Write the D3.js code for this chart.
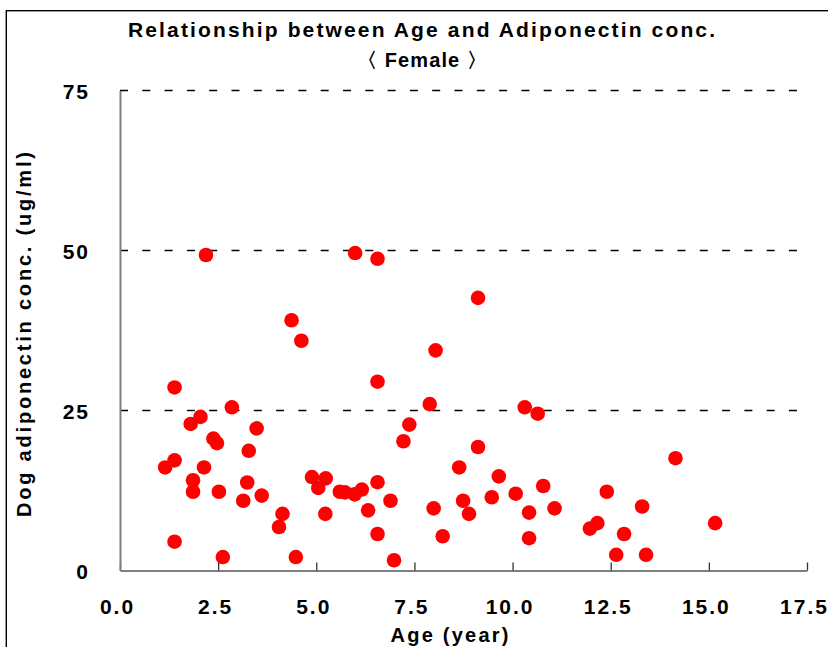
<!DOCTYPE html>
<html>
<head>
<meta charset="utf-8">
<script src="https://cdn.jsdelivr.net/npm/d3@7"></script>
<style>
    body { margin: 0; background: #fff; }
    .chart text { font-family: "Liberation Sans", Arial, sans-serif; font-weight: bold; fill: #000; }
</style>
</head>
<body>
<div class="chart"></div>
<script>
var ages = [2.19, 5.99, 6.56, 4.37, 4.62, 1.39, 6.56, 2.85, 2.05, 1.80,
            3.48, 2.38, 2.47, 3.28, 1.39, 1.15, 2.14, 1.86, 1.86, 2.52,
            3.24, 3.14, 3.61, 4.14, 4.05, 1.39, 2.62, 4.48, 4.89, 5.24,
            5.05, 5.23, 5.60, 5.73, 5.98, 6.16, 6.56, 6.32, 6.89, 6.56,
            6.98, 7.22, 9.12, 8.04, 7.89, 10.31, 10.64, 7.37, 9.12, 14.15,
            8.64, 9.65, 10.78, 12.40, 10.08, 9.47, 8.74, 7.99, 11.07, 13.30,
            10.42, 8.89, 12.16, 11.97, 12.84, 8.22, 10.42, 12.64, 13.40, 15.16];

var adiponectin = [49.3, 49.6, 48.7, 39.1, 35.9, 28.6, 29.5, 25.5, 24.0, 22.9,
                   22.2, 20.6, 19.9, 18.7, 17.2, 16.1, 16.1, 14.1, 12.3, 12.3,
                   13.75, 10.9, 11.7, 8.85, 6.8, 4.5, 2.1, 2.1, 14.6, 14.4,
                   12.9, 8.85, 12.3, 12.2, 11.9, 12.65, 13.8, 9.4, 10.9, 5.7,
                   1.6, 20.2, 42.6, 34.4, 26.0, 25.5, 24.5, 22.8, 19.3, 17.55,
                   16.1, 14.7, 13.2, 12.3, 12.0, 11.45, 10.9, 9.7, 9.7, 10.0,
                   9.05, 8.85, 7.4, 6.55, 5.7, 5.35, 5.05, 2.45, 2.45, 7.4];

var xTicks = [0, 2.5, 5, 7.5, 10, 12.5, 15, 17.5];
var yTicks = [0, 25, 50, 75];
var gridValues = [25, 50, 75];

var title = "Relationship between Age and Adiponectin conc.";
var subtitle = "〈 Female 〉";
var xLabel = "Age (year)";
var yLabel = "Dog adiponectin conc. (ug/ml)";

var width = 828,
    height = 647;

var x = d3.scaleLinear()
    .domain([0, 17.5])
    .range([120, 807]);

var y = d3.scaleLinear()
    .domain([0, 75])
    .range([570.5, 90.5]);

var svg = d3.select(".chart").append("svg")
    .attr("width", width)
    .attr("height", height);

// outer frame, only top and left edges are visible
svg.append("rect")
    .attr("x", 6.3)
    .attr("y", 10.7)
    .attr("width", 900)
    .attr("height", 900)
    .attr("fill", "none")
    .attr("stroke", "#000")
    .attr("stroke-width", 1.4);

svg.append("g")
    .attr("class", "grid")
    .selectAll("line")
    .data(gridValues)
    .enter().append("line")
    .attr("x1", x(0))
    .attr("x2", 799)
    .attr("y1", function(d) { return y(d); })
    .attr("y2", function(d) { return y(d); })
    .attr("stroke", "#000")
    .attr("stroke-width", 1.3)
    .attr("stroke-dasharray", "8,14.3");

var xAxis = d3.axisBottom(x)
    .tickValues(xTicks)
    .tickFormat(d3.format(".1f"))
    .tickSizeInner(-8)
    .tickSizeOuter(0)
    .tickPadding(29);

var yAxis = d3.axisLeft(y)
    .tickValues(yTicks)
    .tickFormat(d3.format("d"))
    .tickSizeInner(0)
    .tickSizeOuter(0)
    .tickPadding(30);

var gx = svg.append("g")
    .attr("class", "x axis")
    .attr("transform", "translate(0," + y(0) + ")")
    .call(xAxis);

var gy = svg.append("g")
    .attr("class", "y axis")
    .attr("transform", "translate(" + x(0) + ",0)")
    .call(yAxis);

gx.select(".domain").attr("stroke", "#7f7f7f").attr("stroke-width", 2);
gy.select(".domain").attr("stroke", "#7f7f7f").attr("stroke-width", 2);
gx.selectAll(".tick line").attr("stroke", "#333").attr("stroke-width", 1.3);

gx.selectAll(".tick text")
    .attr("font-size", 21)
    .attr("font-family", null)
    .style("letter-spacing", "2px")
    .attr("dx", "-3");

gy.selectAll(".tick text")
    .attr("font-size", 21)
    .attr("font-family", null)
    .style("letter-spacing", "2px")
    .attr("dy", "0.4em");

svg.append("g")
    .attr("class", "points")
    .selectAll("circle")
    .data(ages)
    .enter().append("circle")
    .attr("cx", function(d) { return x(d); })
    .attr("cy", function(d, i) { return y(adiponectin[i]); })
    .attr("r", 7.3)
    .attr("fill", "#ff0000");

svg.append("text")
    .attr("x", 421.5)
    .attr("y", 37)
    .attr("text-anchor", "middle")
    .attr("font-size", 21)
    .attr("textLength", 587)
    .attr("lengthAdjust", "spacing")
    .text(title);

svg.append("text")
    .attr("x", 422)
    .attr("y", 67)
    .attr("text-anchor", "middle")
    .attr("font-size", 20)
    .attr("textLength", 130)
    .attr("lengthAdjust", "spacing")
    .text(subtitle);

svg.append("text")
    .attr("x", 449.5)
    .attr("y", 642)
    .attr("text-anchor", "middle")
    .attr("font-size", 20)
    .attr("textLength", 118)
    .attr("lengthAdjust", "spacing")
    .text(xLabel);

svg.append("text")
    .attr("transform", "translate(31,334.5) rotate(-90)")
    .attr("text-anchor", "middle")
    .attr("font-size", 20)
    .attr("textLength", 365)
    .attr("lengthAdjust", "spacing")
    .text(yLabel);
</script>
</body>
</html>
